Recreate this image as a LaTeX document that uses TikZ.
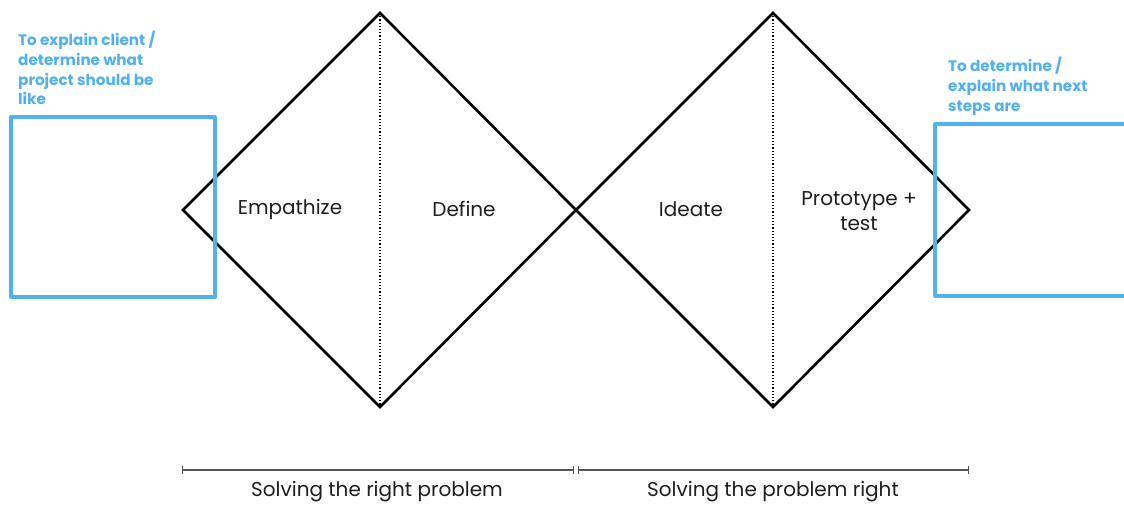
\documentclass[tikz,border=0pt]{standalone}
\usepackage{fontspec}
\setmainfont{Poppins}
\newfontfamily\notefont{Poppins}
\definecolor{noteblue}{RGB}{80,176,240}
\definecolor{rulegray}{RGB}{85,85,85}
\definecolor{labelgray}{RGB}{30,30,30}
\tikzset{
  diamondline/.style={line width=2.6pt, line join=miter, black},
  divider/.style={line width=1.2pt, dotted, black},
  notebox/.style={line width=3.2pt, noteblue, line join=round},
  notetext/.style={text=noteblue, font=\notefont\bfseries\fontsize{15.2}{19.7}\selectfont, align=left, anchor=north west, inner sep=0pt},
  phase/.style={text=labelgray, font=\fontsize{20}{25}\selectfont, align=center, inner sep=0pt},
  spanline/.style={line width=1.2pt, rulegray, |-|},
  spantext/.style={text=labelgray, font=\fontsize{20}{24}\selectfont, inner sep=0pt}
}
\begin{document}
\begin{tikzpicture}[x=1pt,y=-1pt]
\useasboundingbox (0,0) rectangle (1124,504);

% corner points of the double diamond
\coordinate (L1) at (183,210);
\coordinate (T1) at (380,13);
\coordinate (M)  at (576,210);
\coordinate (B1) at (380,407);
\coordinate (T2) at (773,13);
\coordinate (R2) at (969,210);
\coordinate (B2) at (773,407);

% dotted splits down the middle of each diamond
\draw[divider] (T1) -- (B1);
\draw[divider] (T2) -- (B2);

% the two diamonds
\draw[diamondline] (L1) -- (T1) -- (M) -- (B1) -- cycle;
\draw[diamondline] (M) -- (T2) -- (R2) -- (B2) -- cycle;

% phase labels
\node[phase] (emp) at (290,209) {Empathize};
\node[phase] (def) at (464,209) {Define};
\node[phase] (ide) at (691,209) {Ideate};
\node[phase] (pro) at (859,211) {Prototype +\\test};

% note boxes and their captions
\draw[notebox] (11,117) rectangle (215,297);
\draw[notebox] (1130,124) -- (935,124) -- (935,296) -- (1130,296);
\node[notetext] (lnote) at (18,31) {To explain client /\\determine what\\project should be\\like};
\node[notetext] (rnote) at (948,57) {To determine /\\explain what next\\steps are};

% spans along the bottom
\coordinate (s1a) at (182,470);
\coordinate (s1b) at (574,470);
\coordinate (s2a) at (578,470);
\coordinate (s2b) at (969,470);
\draw[spanline] (s1a) -- (s1b);
\draw[spanline] (s2a) -- (s2b);
\node[spantext] (sp1) at (377,492) {Solving the right problem};
\node[spantext] (sp2) at (773,492) {Solving the problem right};
\end{tikzpicture}
\end{document}
